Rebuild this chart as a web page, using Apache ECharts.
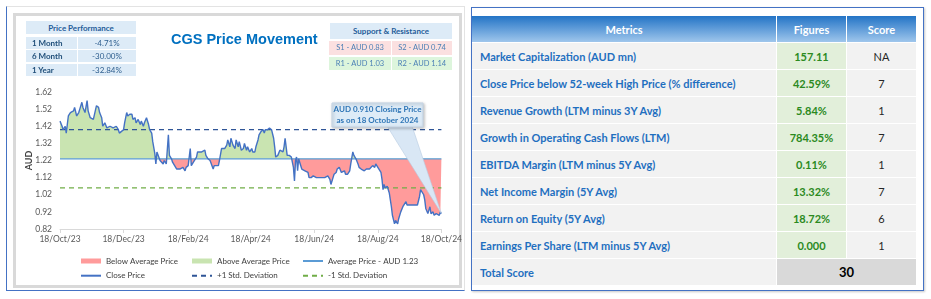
<!DOCTYPE html>
<html>
<head>
<meta charset="utf-8">
<script src="https://cdn.jsdelivr.net/npm/echarts@6/dist/echarts.min.js"></script>
<style>
  body { margin: 0; background: #fff; font-family: Lato, "Open Sans", sans-serif; }
  .abs { position: absolute; box-sizing: border-box; }
  #leftBox { left: 6px; top: 6px; width: 459px; height: 285px; border-left: 1.5px solid #4472c4; border-bottom: 1.5px solid #4472c4; border-top: 1px solid #e3e3e3; border-right: 1px solid #e3e3e3; }
  #leftFrame { left: 13px; top: 13px; width: 449px; height: 275px; border: 3px solid #d9d9d9; }
  #rightBox { left: 471px; top: 7px; width: 453px; height: 284px; border: 1px solid #4472c4; box-shadow: 1px 1px 2px #c8c8c8; }
  #chart { left: 0; top: 0; width: 465px; height: 299px; }
  .cell { position: absolute; box-sizing: border-box; font-size: 8px; color: #1f4e79; display: flex; align-items: center; justify-content: center; white-space: nowrap; }
  .hd { background: #ddebf7; font-weight: bold; color: #1f5c99; }
  .pl { background: #ddebf7; font-weight: bold; justify-content: flex-start; padding-left: 6px; }
  .pv { background: #ddebf7; color: #2f5f8f; }
  .sr { color: #4a7fb5; font-size: 7.5px; }
  .s { background: #fbe0e0; }
  .r { background: #ddf5dc; }
  #metrics { position: absolute; left: 471px; top: 15px; border-collapse: separate; border-spacing: 1px; }
  #metrics td, #metrics th { height: 26px; padding: 0; font-size: 11px; }
  #metrics th { color: #fff; font-weight: bold; background: linear-gradient(to bottom, #2374c6, #9fc6ec); }
  #metrics td.m { background: #f2f2f2; color: #1f6fc0; font-weight: bold; padding-left: 8px; }
  #metrics td.f { background: #e2efda; color: #2b8a1e; font-weight: bold; text-align: center; }
  #metrics td.sc { background: #f2f2f2; color: #262626; text-align: center; }
  #metrics td.tot { background: #d9d9d9; color: #000; font-weight: bold; text-align: center; font-size: 13px; }
</style>
</head>
<body>
<div id="leftBox" class="abs"></div>
<div id="leftFrame" class="abs"></div>
<div id="rightBox" class="abs"></div>
<div id="chart" class="abs"></div>

<div class="cell hd" style="left:26px;top:21px;width:110px;height:13px;">Price Performance</div>
<div class="cell pl" style="left:26px;top:36.5px;width:51px;height:12px;">1 Month</div>
<div class="cell pv" style="left:78px;top:36.5px;width:58px;height:12px;">-4.71%</div>
<div class="cell pl" style="left:26px;top:50px;width:51px;height:12px;">6 Month</div>
<div class="cell pv" style="left:78px;top:50px;width:58px;height:12px;">-30.00%</div>
<div class="cell pl" style="left:26px;top:64px;width:51px;height:12px;">1 Year</div>
<div class="cell pv" style="left:78px;top:64px;width:58px;height:12px;">-32.84%</div>

<div class="cell hd" style="left:330px;top:22.5px;width:122px;height:16.5px;">Support &amp; Resistance</div>
<div class="cell sr s" style="left:329px;top:41px;width:62px;height:13.5px;">S1 - AUD 0.83</div>
<div class="cell sr s" style="left:392px;top:41px;width:60px;height:13.5px;">S2 - AUD 0.74</div>
<div class="cell sr r" style="left:329px;top:57px;width:62px;height:13px;">R1 - AUD 1.03</div>
<div class="cell sr r" style="left:392px;top:57px;width:60px;height:13px;">R2 - AUD 1.14</div>

<table id="metrics">
  <tr><th style="width:304px">Metrics</th><th style="width:69px">Figures</th><th style="width:69px">Score</th></tr>
  <tr><td class="m">Market Capitalization (AUD mn)</td><td class="f">157.11</td><td class="sc">NA</td></tr>
  <tr><td class="m">Close Price below 52-week High Price (% difference)</td><td class="f">42.59%</td><td class="sc">7</td></tr>
  <tr><td class="m">Revenue Growth (LTM minus 3Y Avg)</td><td class="f">5.84%</td><td class="sc">1</td></tr>
  <tr><td class="m">Growth in Operating Cash Flows (LTM)</td><td class="f">784.35%</td><td class="sc">7</td></tr>
  <tr><td class="m">EBITDA Margin (LTM minus 5Y Avg)</td><td class="f">0.11%</td><td class="sc">1</td></tr>
  <tr><td class="m">Net Income Margin (5Y Avg)</td><td class="f">13.32%</td><td class="sc">7</td></tr>
  <tr><td class="m">Return on Equity (5Y Avg)</td><td class="f">18.72%</td><td class="sc">6</td></tr>
  <tr><td class="m">Earnings Per Share (LTM minus 5Y Avg)</td><td class="f">0.000</td><td class="sc">1</td></tr>
  <tr><td class="m">Total Score</td><td class="tot" colspan="2">30</td></tr>
</table>

<script>
// days counted from 18/Oct/23, close price in AUD
const days = [0, 2, 3, 5, 6, 8, 10, 11, 13, 14, 16, 18, 19, 21, 22, 24, 26, 27, 29, 32,
  35, 37, 38, 40, 41, 43, 45, 48, 51, 54, 56, 57, 59, 61, 62, 64, 65, 67, 69, 70,
  72, 73, 75, 77, 78, 80, 81, 83, 85, 86, 88, 89, 91, 92, 93, 94, 96, 97, 99, 100,
  102, 104, 105, 106, 107, 108, 110, 112, 113, 115, 116, 118, 120, 121, 123, 124, 125, 126, 128, 129,
  131, 132, 134, 136, 137, 139, 140, 142, 144, 145, 147, 148, 150, 152, 153, 155, 156, 158, 160, 161,
  163, 164, 166, 168, 169, 171, 172, 174, 176, 177, 179, 180, 182, 184, 185, 187, 188, 190, 191, 193,
  195, 196, 197, 198, 199, 201, 203, 204, 205, 206, 207, 209, 211, 212, 214, 215, 216, 218, 219, 220,
  222, 223, 224, 225, 226, 227, 228, 229, 230, 231, 232, 233, 235, 236, 238, 239, 241, 243, 244, 246,
  247, 249, 251, 252, 254, 255, 257, 259, 260, 262, 263, 265, 266, 268, 270, 271, 273, 274, 276, 278,
  279, 281, 282, 284, 286, 287, 289, 290, 292, 294, 295, 297, 298, 300, 302, 303, 305, 306, 308, 309,
  310, 311, 312, 313, 314, 316, 318, 319, 321, 322, 324, 325, 327, 329, 330, 332, 333, 335, 337, 338,
  340, 341, 343, 345, 346, 347, 349, 350, 351, 353, 355, 356, 358, 359, 361, 362, 364, 365, 366];
const closePrices = [1.45, 1.42, 1.40, 1.42, 1.38, 1.48, 1.50, 1.49, 1.51, 1.53, 1.48, 1.50, 1.52, 1.56, 1.53, 1.50, 1.57, 1.51, 1.47, 1.46,
  1.54, 1.53, 1.50, 1.47, 1.42, 1.44, 1.41, 1.42, 1.41, 1.42, 1.40, 1.38, 1.39, 1.40, 1.44, 1.50, 1.48, 1.49, 1.49, 1.46,
  1.47, 1.44, 1.46, 1.43, 1.45, 1.42, 1.44, 1.47, 1.43, 1.40, 1.38, 1.33, 1.26, 1.20, 1.27, 1.26, 1.22, 1.21, 1.20, 1.22,
  1.20, 1.37, 1.25, 1.24, 1.23, 1.21, 1.19, 1.17, 1.18, 1.17, 1.16, 1.18, 1.16, 1.18, 1.19, 1.20, 1.29, 1.19, 1.21, 1.22,
  1.24, 1.27, 1.27, 1.27, 1.26, 1.28, 1.25, 1.23, 1.22, 1.21, 1.17, 1.19, 1.19, 1.19, 1.22, 1.29, 1.30, 1.29, 1.31, 1.34,
  1.30, 1.35, 1.31, 1.29, 1.34, 1.30, 1.33, 1.28, 1.29, 1.32, 1.28, 1.30, 1.27, 1.29, 1.27, 1.27, 1.30, 1.34, 1.37, 1.39,
  1.40, 1.38, 1.40, 1.39, 1.40, 1.41, 1.40, 1.41, 1.35, 1.30, 1.24, 1.25, 1.28, 1.29, 1.27, 1.30, 1.35, 1.25, 1.24, 1.25,
  1.24, 1.23, 1.18, 1.10, 1.22, 1.24, 1.16, 1.23, 1.21, 1.22, 1.17, 1.18, 1.16, 1.17, 1.15, 1.12, 1.12, 1.13, 1.12, 1.12,
  1.11, 1.12, 1.12, 1.11, 1.12, 1.11, 1.13, 1.11, 1.08, 1.12, 1.14, 1.15, 1.17, 1.18, 1.15, 1.14, 1.16, 1.14, 1.14, 1.16,
  1.20, 1.27, 1.25, 1.23, 1.20, 1.18, 1.17, 1.17, 1.16, 1.17, 1.16, 1.17, 1.16, 1.19, 1.18, 1.20, 1.18, 1.17, 1.15, 1.11,
  1.05, 1.08, 1.06, 1.07, 1.07, 1.03, 0.95, 0.90, 0.85, 0.87, 0.85, 0.88, 0.92, 0.95, 0.96, 0.98, 0.96, 0.96, 0.96, 0.97,
  0.96, 0.97, 0.96, 1.01, 1.05, 1.04, 1.02, 0.99, 0.94, 0.91, 0.95, 0.91, 0.92, 0.90, 0.91, 0.90, 0.90, 0.92, 0.91];

const avgPrice = 1.23;
const upperBand = 1.40;
const lowerBand = 1.06;
const closeLabel = ['AUD 0.910 Closing Price', 'as on 18 October 2024'];

const tickDays = [0, 61, 123, 183, 244, 305, 366];
const tickLabels = ['18/Oct/23', '18/Dec/23', '18/Feb/24', '18/Apr/24', '18/Jun/24', '18/Aug/24', '18/Oct/24'];

const RED = '#ff9b9b';
const GREEN = '#c9e4b1';

const points = days.map((d, i) => [d, closePrices[i]]);
const first = days[0], last = days[days.length - 1];
const hiP = Math.max(...closePrices), loP = Math.min(...closePrices);
const cut = (hiP - avgPrice) / (hiP - loP);

function split(topColor, bottomColor) {
  return new echarts.graphic.LinearGradient(0, 0, 0, 1, [
    { offset: 0, color: topColor }, { offset: cut, color: topColor },
    { offset: cut, color: bottomColor }, { offset: 1, color: bottomColor }
  ]);
}
function flat(v) { return [[first, v], [last, v]]; }

const chart = echarts.init(document.getElementById('chart'));
const legendText = { fontSize: 8, color: '#404040', fontFamily: 'Lato', lineHeight: 12 };
const noDot = { opacity: 0 };
function col(left, names) {
  return { orient: 'vertical', left: left, top: 250, itemWidth: 20, itemHeight: 5, itemGap: 2.7,
    textStyle: legendText, selectedMode: false, data: names };
}

chart.setOption({
  animation: false,
  title: {
    text: 'CGS Price Movement', left: 166, top: 27,
    textStyle: { fontFamily: 'Liberation Sans', fontSize: 14.5, fontWeight: 'bold', color: '#0070c0' }
  },
  legend: [
    col(75, [{ name: 'Below Average Price', icon: 'rect', itemStyle: { color: RED } },
      { name: 'Close Price', itemStyle: noDot }]),
    col(186, [{ name: 'Above Average Price', icon: 'rect', itemStyle: { color: GREEN } },
      { name: '+1 Std. Deviation', itemStyle: noDot }]),
    col(297, [{ name: 'Average Price - AUD 1.23', itemStyle: noDot },
      { name: '-1 Std. Deviation', itemStyle: noDot }])
  ],
  grid: { left: 60, right: 23, top: 92, bottom: 70 },
  xAxis: {
    type: 'value', min: first, max: last,
    splitLine: { show: false },
    axisLine: { lineStyle: { color: '#d9d9d9' } },
    axisTick: { show: true, length: 4, lineStyle: { color: '#d9d9d9' }, customValues: tickDays },
    axisLabel: {
      customValues: tickDays, margin: 6, fontSize: 8.5, color: '#595959', fontFamily: 'Lato',
      formatter: v => tickLabels[tickDays.indexOf(Math.round(v))] || ''
    }
  },
  yAxis: {
    type: 'value', min: 0.82, max: 1.62, interval: 0.1,
    name: 'AUD', nameLocation: 'middle', nameGap: 26, nameRotate: 90, nameMoveOverlap: false,
    nameTextStyle: { fontSize: 9, fontWeight: 'bold', color: '#404040', fontFamily: 'Lato' },
    splitLine: { show: false }, axisLine: { show: false }, axisTick: { show: false },
    axisLabel: { fontSize: 8.5, color: '#595959', margin: 8, fontFamily: 'Lato', formatter: v => v.toFixed(2) }
  },
  series: [
    { name: 'Below Average Price', type: 'line', data: points, symbol: 'none', silent: true,
      itemStyle: { color: RED }, lineStyle: { width: 0 },
      areaStyle: { origin: avgPrice, opacity: 1, color: split('rgba(255,255,255,0)', RED) } },
    { name: 'Above Average Price', type: 'line', data: points, symbol: 'none', silent: true,
      itemStyle: { color: GREEN }, lineStyle: { width: 0 },
      areaStyle: { origin: avgPrice, opacity: 1, color: split(GREEN, 'rgba(255,255,255,0)') } },
    { name: 'Average Price - AUD 1.23', type: 'line', data: flat(avgPrice), symbol: 'none',
      itemStyle: { color: '#5b9bd5' }, lineStyle: { color: '#5b9bd5', width: 1.3 } },
    { name: '+1 Std. Deviation', type: 'line', data: flat(upperBand), symbol: 'none',
      itemStyle: { color: '#2f5597' }, lineStyle: { color: '#2f5597', width: 1.2, type: [5, 4] } },
    { name: '-1 Std. Deviation', type: 'line', data: flat(lowerBand), symbol: 'none',
      itemStyle: { color: '#70ad47' }, lineStyle: { color: '#70ad47', width: 1.2, type: [5, 4] } },
    { name: 'Close Price', type: 'line', data: points, symbol: 'none', z: 5,
      itemStyle: { color: '#4472c4' }, lineStyle: { color: '#4472c4', width: 1.4 } }
  ]
});

// callout pointing at the last close
const tip = chart.convertToPixel({ seriesIndex: 5 }, points[points.length - 1]);
chart.setOption({
  graphic: [
    { type: 'polygon', z: 100, shape: { points: [[387, 126], [412, 126], tip] },
      style: { fill: '#d9e7f5', stroke: '#b7cbe0', lineWidth: 0.6 } },
    { type: 'rect', z: 101, shape: { x: 332, y: 103, width: 91, height: 24 },
      style: { fill: '#ddebf7', stroke: '#c3d3e4', lineWidth: 1, shadowBlur: 3, shadowColor: 'rgba(0,0,0,0.25)', shadowOffsetX: 1, shadowOffsetY: 1 } },
    { type: 'text', z: 102, x: 377.5, y: 115,
      style: { text: closeLabel.join('\n'), align: 'center', verticalAlign: 'middle', fill: '#2e75b6',
        font: 'bold 8px Lato', lineHeight: 10.5 } }
  ]
});
</script>
</body>
</html>
